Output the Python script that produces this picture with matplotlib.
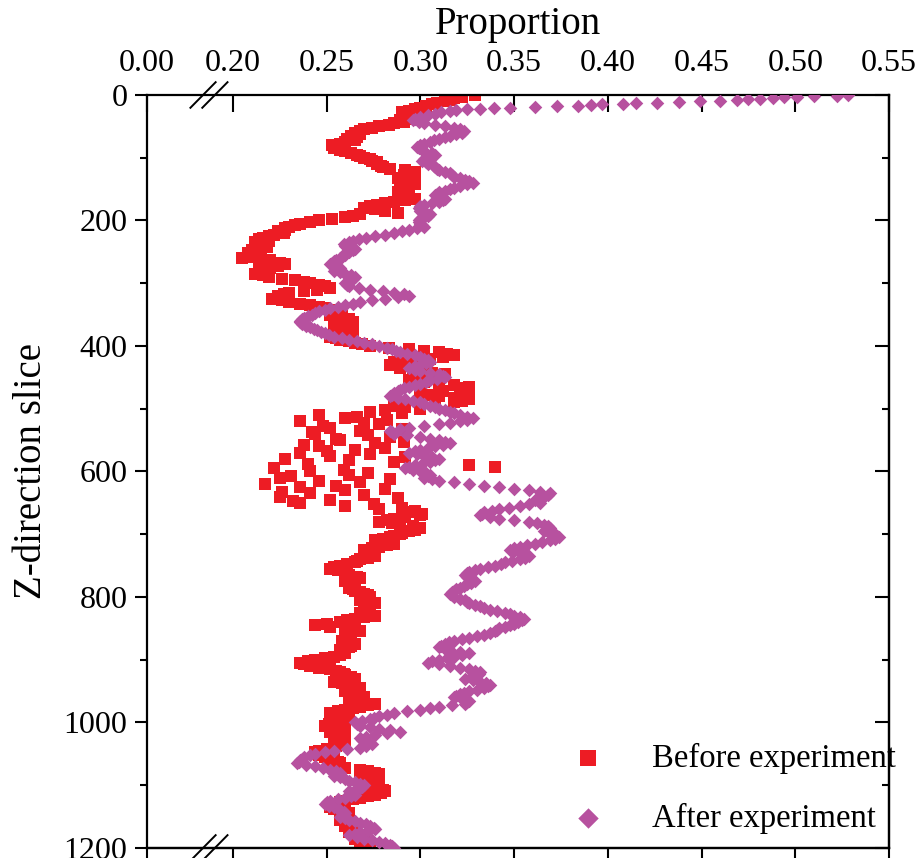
import numpy as np
import matplotlib
matplotlib.use("Agg")
import matplotlib.pyplot as plt
from matplotlib.ticker import MultipleLocator

plt.rcParams["font.family"] = ["Liberation Serif", "DejaVu Serif"]

# proportion per Z slice.
# "_a" lists are taken at slices 0, 5, 10 ...; "_b" lists half way between.
before_a = [
    0.329, 0.318, 0.313, 0.306, 0.300, 0.294, 0.292, 0.290, 0.289, 0.286,
    0.278, 0.270, 0.265, 0.263, 0.261, 0.260, 0.253, 0.254, 0.260, 0.266,
    0.270, 0.274, 0.277, 0.280, 0.292, 0.296, 0.292, 0.289, 0.293, 0.294,
    0.290, 0.288, 0.289, 0.297, 0.286, 0.277, 0.270, 0.281, 0.268, 0.260,
    0.246, 0.236, 0.230, 0.228, 0.227, 0.219, 0.214, 0.212, 0.213, 0.215,
    0.212, 0.208, 0.205, 0.214, 0.228, 0.220, 0.214, 0.212, 0.219, 0.233,
    0.241, 0.249, 0.245, 0.230, 0.224, 0.221, 0.230, 0.241, 0.249, 0.254,
    0.252, 0.254, 0.260, 0.257, 0.254, 0.260, 0.257, 0.252, 0.257, 0.265,
    0.273, 0.294, 0.310, 0.318, 0.305, 0.286, 0.284, 0.289, 0.300, 0.313,
    0.305, 0.294, 0.310, 0.326, 0.321, 0.300, 0.310, 0.326, 0.318, 0.286,
    0.300, 0.273, 0.246, 0.260, 0.236, 0.278, 0.252, 0.268, 0.244, 0.284,
    0.257, 0.276, 0.246, 0.265, 0.236, 0.252, 0.228, 0.286, 0.326, 0.222,
    0.241, 0.262, 0.225, 0.246, 0.217, 0.236, 0.260, 0.241, 0.225, 0.252,
    0.236, 0.260, 0.278, 0.294, 0.300, 0.286, 0.278, 0.289, 0.300, 0.294,
    0.289, 0.284, 0.276, 0.286, 0.278, 0.270, 0.273, 0.276, 0.268, 0.265,
    0.257, 0.252, 0.260, 0.262, 0.268, 0.260, 0.265, 0.262, 0.265, 0.270,
    0.273, 0.268, 0.276, 0.270, 0.273, 0.268, 0.276, 0.265, 0.257, 0.244,
    0.260, 0.268, 0.260, 0.262, 0.258, 0.265, 0.262, 0.257, 0.260, 0.254,
    0.244, 0.236, 0.241, 0.252, 0.257, 0.260, 0.265, 0.254, 0.262, 0.268,
    0.260, 0.265, 0.270, 0.262, 0.276, 0.268, 0.260, 0.252, 0.257, 0.262,
    0.254, 0.249, 0.260, 0.252, 0.257, 0.254, 0.260, 0.257, 0.254, 0.246,
    0.244, 0.249, 0.254, 0.257, 0.252, 0.268, 0.276, 0.278, 0.273, 0.268,
    0.270, 0.278, 0.281, 0.276, 0.268, 0.260, 0.254, 0.252, 0.257, 0.262,
    0.260, 0.257, 0.262, 0.260, 0.265, 0.262, 0.268, 0.265, 0.270, 0.268,
    0.273,
]
before_b = [
    0.322, 0.316, 0.309, 0.303, 0.297, 0.290, 0.294, 0.293, 0.291, 0.283,
    0.274, 0.268, 0.268, 0.266, 0.265, 0.257, 0.258, 0.257, 0.263, 0.268,
    0.273, 0.277, 0.279, 0.284, 0.297, 0.291, 0.288, 0.292, 0.297, 0.290,
    0.293, 0.292, 0.294, 0.292, 0.281, 0.273, 0.276, 0.288, 0.264, 0.253,
    0.241, 0.233, 0.228, 0.224, 0.222, 0.216, 0.219, 0.217, 0.218, 0.210,
    0.208, 0.211, 0.220, 0.225, 0.224, 0.216, 0.218, 0.216, 0.226, 0.238,
    0.246, 0.252, 0.238, 0.227, 0.228, 0.226, 0.236, 0.246, 0.252, 0.257,
    0.258, 0.262, 0.264, 0.262, 0.259, 0.264, 0.261, 0.255, 0.262, 0.269,
    0.283, 0.302, 0.314, 0.312, 0.296, 0.290, 0.292, 0.296, 0.306, 0.309,
    0.300, 0.302, 0.318, 0.322, 0.312, 0.305, 0.318, 0.322, 0.308, 0.292,
    0.281, 0.290, 0.266, 0.282, 0.270, 0.248, 0.290, 0.242, 0.272, 0.255,
    0.291, 0.238, 0.281, 0.250, 0.273, 0.292, 0.262, 0.240, 0.340, 0.259,
    0.272, 0.231, 0.284, 0.268, 0.255, 0.281, 0.226, 0.270, 0.288, 0.232,
    0.275, 0.290, 0.297, 0.301, 0.292, 0.282, 0.285, 0.296, 0.297, 0.290,
    0.286, 0.280, 0.281, 0.282, 0.274, 0.271, 0.275, 0.272, 0.266, 0.261,
    0.254, 0.256, 0.261, 0.266, 0.264, 0.263, 0.263, 0.264, 0.268, 0.272,
    0.270, 0.272, 0.273, 0.272, 0.270, 0.272, 0.270, 0.261, 0.250, 0.252,
    0.265, 0.263, 0.262, 0.260, 0.262, 0.263, 0.259, 0.259, 0.257, 0.249,
    0.240, 0.238, 0.246, 0.255, 0.259, 0.263, 0.259, 0.258, 0.265, 0.264,
    0.263, 0.268, 0.266, 0.270, 0.272, 0.264, 0.256, 0.255, 0.260, 0.258,
    0.251, 0.254, 0.256, 0.255, 0.255, 0.258, 0.258, 0.255, 0.250, 0.244,
    0.246, 0.252, 0.256, 0.255, 0.260, 0.272, 0.278, 0.276, 0.270, 0.268,
    0.274, 0.280, 0.279, 0.272, 0.264, 0.257, 0.252, 0.254, 0.260, 0.261,
    0.258, 0.260, 0.261, 0.263, 0.263, 0.265, 0.266, 0.268, 0.269, 0.271,
]

# after experiment: slices 0-24 one by one, then every 5 slices from 25
after_top = [
    0.528, 0.522, 0.510, 0.501, 0.494, 0.488, 0.481, 0.475, 0.469, 0.460,
    0.449, 0.438, 0.426, 0.415, 0.408, 0.397, 0.391, 0.384, 0.373, 0.361,
    0.348, 0.339, 0.332, 0.325, 0.319,
]
after_a = [
    0.316, 0.308, 0.300, 0.296, 0.302, 0.313, 0.321, 0.322, 0.316, 0.310,
    0.305, 0.300, 0.299, 0.302, 0.308, 0.305, 0.301, 0.304, 0.308, 0.310,
    0.316, 0.318, 0.324, 0.328, 0.321, 0.316, 0.310, 0.308, 0.313, 0.310,
    0.302, 0.299, 0.300, 0.305, 0.302, 0.299, 0.300, 0.302, 0.294, 0.286,
    0.276, 0.267, 0.262, 0.260, 0.265, 0.262, 0.260, 0.257, 0.254, 0.252,
    0.257, 0.254, 0.260, 0.265, 0.262, 0.260, 0.262, 0.273, 0.286, 0.294,
    0.281, 0.268, 0.260, 0.252, 0.246, 0.242, 0.238, 0.236, 0.237, 0.241,
    0.245, 0.249, 0.254, 0.262, 0.270, 0.278, 0.285, 0.289, 0.297, 0.302,
    0.305, 0.300, 0.294, 0.300, 0.310, 0.313, 0.305, 0.300, 0.294, 0.289,
    0.286, 0.284, 0.292, 0.300, 0.305, 0.310, 0.316, 0.321, 0.328, 0.321,
    0.310, 0.294, 0.284, 0.286, 0.300, 0.310, 0.316, 0.308, 0.300, 0.294,
    0.302, 0.310, 0.305, 0.297, 0.292, 0.300, 0.305, 0.302, 0.310, 0.326,
    0.342, 0.358, 0.369, 0.366, 0.361, 0.364, 0.353, 0.342, 0.334, 0.332,
    0.342, 0.358, 0.366, 0.369, 0.366, 0.372, 0.374, 0.369, 0.361, 0.353,
    0.348, 0.353, 0.358, 0.353, 0.345, 0.340, 0.332, 0.326, 0.324, 0.326,
    0.329, 0.325, 0.321, 0.318, 0.316, 0.318, 0.324, 0.326, 0.332, 0.337,
    0.345, 0.350, 0.355, 0.352, 0.348, 0.342, 0.340, 0.334, 0.326, 0.318,
    0.313, 0.310, 0.316, 0.326, 0.318, 0.310, 0.304, 0.316, 0.326, 0.332,
    0.329, 0.324, 0.332, 0.337, 0.334, 0.326, 0.321, 0.318, 0.326, 0.324,
    0.310, 0.300, 0.286, 0.278, 0.273, 0.265, 0.268, 0.278, 0.289, 0.276,
    0.268, 0.270, 0.274, 0.268, 0.254, 0.244, 0.238, 0.236, 0.234, 0.244,
    0.252, 0.257, 0.254, 0.260, 0.265, 0.270, 0.268, 0.262, 0.265, 0.260,
    0.252, 0.249, 0.254, 0.257, 0.260, 0.257, 0.262, 0.268, 0.273, 0.276,
    0.268, 0.262, 0.270, 0.278, 0.284, 0.286,
]
after_b = [
    0.311, 0.304, 0.297, 0.299, 0.308, 0.318, 0.323, 0.319, 0.313, 0.307,
    0.302, 0.298, 0.301, 0.306, 0.306, 0.302, 0.303, 0.307, 0.309, 0.313,
    0.317, 0.321, 0.326, 0.325, 0.318, 0.313, 0.309, 0.311, 0.312, 0.306,
    0.300, 0.300, 0.303, 0.304, 0.300, 0.299, 0.301, 0.298, 0.290, 0.281,
    0.271, 0.264, 0.259, 0.262, 0.264, 0.260, 0.258, 0.255, 0.253, 0.254,
    0.256, 0.257, 0.263, 0.264, 0.261, 0.261, 0.267, 0.280, 0.291, 0.288,
    0.274, 0.264, 0.256, 0.249, 0.244, 0.240, 0.237, 0.236, 0.239, 0.243,
    0.247, 0.251, 0.258, 0.266, 0.274, 0.282, 0.287, 0.293, 0.300, 0.304,
    0.303, 0.297, 0.297, 0.305, 0.312, 0.309, 0.303, 0.297, 0.291, 0.288,
    0.285, 0.288, 0.296, 0.302, 0.308, 0.313, 0.318, 0.325, 0.325, 0.316,
    0.302, 0.289, 0.285, 0.293, 0.305, 0.313, 0.312, 0.304, 0.297, 0.298,
    0.306, 0.308, 0.301, 0.294, 0.296, 0.303, 0.304, 0.306, 0.318, 0.334,
    0.350, 0.364, 0.368, 0.363, 0.363, 0.358, 0.347, 0.338, 0.333, 0.337,
    0.350, 0.362, 0.368, 0.367, 0.369, 0.373, 0.372, 0.365, 0.357, 0.350,
    0.350, 0.356, 0.356, 0.349, 0.343, 0.336, 0.329, 0.325, 0.325, 0.328,
    0.327, 0.323, 0.319, 0.317, 0.317, 0.321, 0.325, 0.329, 0.334, 0.341,
    0.348, 0.353, 0.354, 0.350, 0.345, 0.341, 0.337, 0.330, 0.322, 0.315,
    0.311, 0.313, 0.321, 0.322, 0.314, 0.306, 0.310, 0.321, 0.329, 0.331,
    0.327, 0.328, 0.335, 0.336, 0.330, 0.323, 0.319, 0.322, 0.325, 0.317,
    0.305, 0.293, 0.282, 0.275, 0.269, 0.266, 0.273, 0.284, 0.282, 0.271,
    0.269, 0.272, 0.271, 0.261, 0.249, 0.241, 0.237, 0.235, 0.239, 0.248,
    0.255, 0.256, 0.257, 0.262, 0.268, 0.269, 0.265, 0.263, 0.263, 0.256,
    0.250, 0.251, 0.256, 0.259, 0.258, 0.260, 0.265, 0.271, 0.275, 0.272,
    0.265, 0.266, 0.274, 0.281, 0.285,
]

before_p = before_a + before_b
before_z = np.concatenate([5 * np.arange(len(before_a)),
                           2.5 + 5 * np.arange(len(before_b))])
n_top = len(after_top)
after_p = after_top + after_a + after_b
after_z = np.concatenate([np.arange(n_top),
                          n_top + 5 * np.arange(len(after_a)),
                          n_top + 2.5 + 5 * np.arange(len(after_b))])

x_ticks = [0.20, 0.25, 0.30, 0.35, 0.40, 0.45, 0.50, 0.55]
x_labels = ["0.00"] + ["%.2f" % v for v in x_ticks]
x_zero = 0.1541   # where "0.00" sits, left of the axis break
y_ticks = [0, 200, 400, 600, 800, 1000, 1200]

red = "#ED1C24"
purple = "#B7519F"

fig = plt.figure(figsize=(9.22, 8.58), dpi=100)
ax = fig.add_axes([0.1594, 0.0117, 0.8048, 0.8776])

ax.scatter(before_p, before_z, marker="s", s=64, color=red, linewidths=0,
           label="Before experiment", zorder=2)
ax.scatter(after_p, after_z, marker="D", s=48, color=purple, linewidths=0,
           label="After experiment", zorder=3)

ax.set_xlim(x_zero, 0.55)
ax.set_ylim(1200, 0)
ax.set_xticks([x_zero] + x_ticks)
ax.set_xticklabels(x_labels)
ax.set_yticks(y_ticks)
ax.yaxis.set_minor_locator(MultipleLocator(100))

ax.xaxis.tick_top()
ax.xaxis.set_label_position("top")
ax.tick_params(axis="x", which="major", direction="in", length=12, width=1.5,
               labelsize=23, pad=12, top=True, bottom=False)
ax.tick_params(axis="y", which="major", direction="out", length=9, width=1.5,
               labelsize=23, pad=5, left=True, right=False)
ax.tick_params(axis="y", which="minor", direction="out", length=5, width=1.5,
               left=True, right=False)
for sp in ax.spines.values():
    sp.set_linewidth(1.6)

# bottom axis: same ticks, pointing outwards, no labels
bot = ax.secondary_xaxis("bottom")
bot.set_xticks([x_zero] + x_ticks)
bot.tick_params(direction="out", length=12, width=1.5, labelbottom=False)
bot.spines["bottom"].set_linewidth(1.6)

# right axis: ticks pointing inwards, no labels
rgt = ax.secondary_yaxis("right")
rgt.set_yticks(y_ticks)
rgt.yaxis.set_minor_locator(MultipleLocator(100))
rgt.tick_params(which="major", direction="in", length=10, width=1.5,
                labelright=False)
rgt.tick_params(which="minor", direction="in", length=5, width=1.5)
rgt.spines["right"].set_linewidth(1.6)

ax.set_xlabel("Proportion", fontsize=28, labelpad=11)
ax.set_ylabel("Z-direction slice", fontsize=28, labelpad=10)

# axis break marks
xc = (209 - 147) / 742
dx, dy = 0.017, 0.017
for yb in (0, 1):
    for off in (-0.008, 0.008):
        ax.plot([xc + off - dx, xc + off + dx], [yb - dy, yb + dy],
                transform=ax.transAxes, color="black", lw=1.4, clip_on=False)

ax.legend(loc="upper left", bbox_to_anchor=(0.551, 0.1613), frameon=False,
          fontsize=23.5, scatterpoints=1, markerscale=1.5, borderpad=0,
          handlelength=1.0, handletextpad=1.45, labelspacing=0.88)

fig.savefig("out.png", dpi=100)
